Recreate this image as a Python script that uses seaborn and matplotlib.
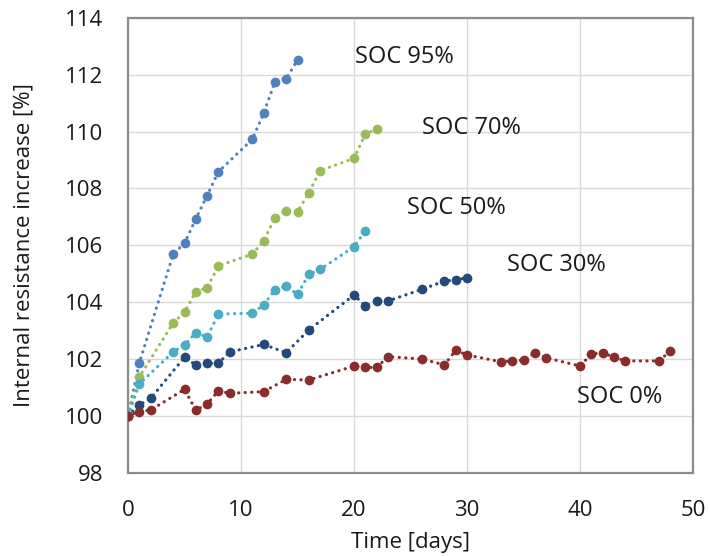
import matplotlib
matplotlib.use("Agg")
import matplotlib.pyplot as plt
import seaborn as sns
import pandas as pd

# Resistance growth per storage state of charge
days_95 = [0, 1, 4, 5, 6, 7, 8, 11, 12, 13, 14, 15]
soc_95 = [100, 101.86, 105.69, 106.07, 106.93, 107.75, 108.59, 109.73, 110.65, 111.74, 111.87, 112.52]

days_70 = [0, 1, 4, 5, 6, 7, 8, 11, 12, 13, 14, 15, 16, 17, 20, 21, 22]
soc_70 = [100, 101.37, 103.27, 103.64, 104.37, 104.51, 105.28, 105.69, 106.15, 106.97, 107.22,
          107.18, 107.85, 108.63, 109.06, 109.92, 110.08]

days_50 = [0, 1, 4, 5, 6, 7, 8, 11, 12, 13, 14, 15, 16, 17, 20, 21]
soc_50 = [100, 101.12, 102.25, 102.49, 102.92, 102.78, 103.58, 103.61, 103.90, 104.43, 104.57,
          104.27, 104.98, 105.15, 105.95, 106.51]

days_30 = [0, 1, 2, 5, 6, 7, 8, 9, 12, 14, 16, 20, 21, 22, 23, 26, 28, 29, 30]
soc_30 = [100, 100.38, 100.61, 102.06, 101.79, 101.85, 101.85, 102.25, 102.51, 102.22, 103.02,
          104.25, 103.87, 104.04, 104.04, 104.45, 104.74, 104.78, 104.86]

days_0 = [0, 1, 2, 5, 6, 7, 8, 9, 12, 14, 16, 20, 21, 22, 23, 26, 28, 29, 30, 33, 34, 35, 36, 37,
          40, 41, 42, 43, 44, 47, 48]
soc_0 = [100, 100.14, 100.20, 100.93, 100.20, 100.41, 100.88, 100.79, 100.85, 101.28, 101.26,
         101.75, 101.70, 101.70, 102.08, 102.00, 101.79, 102.31, 102.14, 101.90, 101.93, 101.96,
         102.22, 102.04, 101.75, 102.17, 102.22, 102.06, 101.93, 101.93, 102.29]

series_names = ["SOC 95%", "SOC 70%", "SOC 50%", "SOC 30%", "SOC 0%"]
series_days = [days_95, days_70, days_50, days_30, days_0]
series_vals = [soc_95, soc_70, soc_50, soc_30, soc_0]
series_colors = ["#4F81BD", "#9BBB59", "#4BACC6", "#24497A", "#8A2C2C"]

# label anchor (left edge, vertical centre) in data units
label_x = [20.1, 26.0, 24.7, 33.5, 39.7]
label_y = [112.63, 110.13, 107.3, 105.3, 100.65]

x_ticks = [0, 10, 20, 30, 40, 50]
y_ticks = [98, 100, 102, 104, 106, 108, 110, 112, 114]

frames = [pd.DataFrame({"day": d, "value": v, "series": n})
          for n, d, v in zip(series_names, series_days, series_vals)]
data = pd.concat(frames, ignore_index=True)

sns.set_style("white")
plt.rcParams["font.family"] = ["Open Sans", "DejaVu Sans"]

fig = plt.figure(figsize=(7.10, 5.56), dpi=100)
ax = fig.add_axes([0.1803, 0.150, 0.7958, 0.8176])

for name, color in zip(series_names, series_colors):
    sub = data[data["series"] == name]
    sns.lineplot(data=sub, x="day", y="value", ax=ax, color=color,
                 linestyle=(0, (0.05, 2.0)), linewidth=2.3,
                 marker="o", markersize=7, markeredgewidth=0,
                 dash_capstyle="round", legend=False, zorder=3)

for name, lx, ly in zip(series_names, label_x, label_y):
    ax.text(lx, ly, name, fontsize=17, color="#1a1a1a", ha="left", va="center")

ax.set_xlim(0, 50)
ax.set_ylim(98, 114)
ax.set_xticks(x_ticks)
ax.set_yticks(y_ticks)
ax.tick_params(axis="y", labelsize=16, colors="#1a1a1a", length=0, pad=18)
ax.tick_params(axis="x", labelsize=16, colors="#1a1a1a", length=0, pad=20)
ax.grid(True, color="#d9d9d9", linewidth=1.0)
ax.set_axisbelow(True)
for spine in ax.spines.values():
    spine.set_visible(True)
    spine.set_color("#8c8c8c")
    spine.set_linewidth(1.6)

ax.set_xlabel("Time [days]", fontsize=16, color="#1a1a1a", labelpad=8)
ax.set_ylabel("Internal resistance increase [%]", fontsize=16, color="#1a1a1a", labelpad=22)

fig.savefig("out.png", dpi=100)
